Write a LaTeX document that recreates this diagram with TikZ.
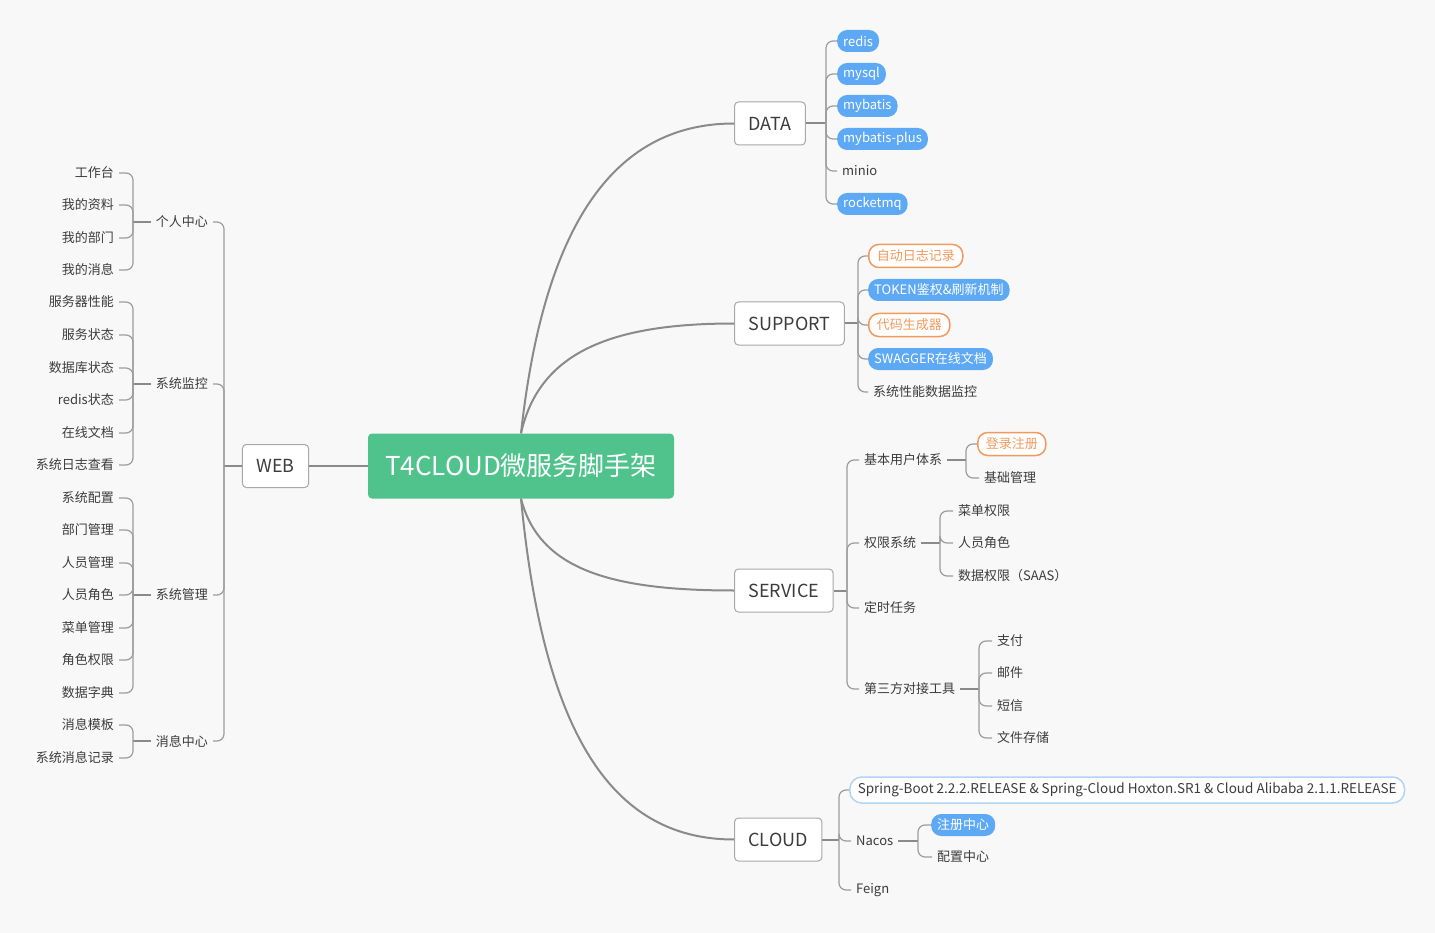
\documentclass[tikz,border=0pt]{standalone}
\usepackage{fontspec}
\setmainfont{Noto Sans CJK SC}
\usetikzlibrary{positioning,calc}

\definecolor{bggray}{HTML}{F8F8F8}
\definecolor{rootgreen}{HTML}{50C38D}
\definecolor{tagblue}{HTML}{5EA9F5}
\definecolor{tagorange}{HTML}{F29A5E}
\definecolor{tagline}{HTML}{B3D4F7}
\definecolor{txtgray}{HTML}{3C3C3C}
\definecolor{linegray}{HTML}{8A8A8A}
\definecolor{boxgray}{HTML}{A8A8A8}

\newcommand\fsleaf{\fontsize{13}{15}\selectfont}
\newcommand\fsspring{\fontsize{13.5}{15}\selectfont}
\newcommand\fstopic{\fontsize{18}{21}\selectfont}
\newcommand\fsroot{\fontsize{26}{30}\selectfont}

\tikzset{
  rootbox/.style={fill=rootgreen, text=white, rounded corners=4pt, minimum width=306pt, minimum height=65pt, font=\fsroot},
  topic/.style={draw=boxgray, line width=1pt, fill=white, rounded corners=4pt, minimum height=43pt, inner xsep=14pt, text=txtgray, font=\fstopic},
  leaf/.style={inner xsep=5pt, inner ysep=3pt, text=txtgray, font=\fsleaf},
  bluetag/.style={fill=tagblue, text=white, rounded corners=10pt, minimum height=22pt, inner xsep=6pt, inner ysep=2pt, font=\fsleaf},
  orangetag/.style={draw=tagorange, line width=1.5pt, fill=white, text=tagorange, rounded corners=10pt, minimum height=23pt, inner xsep=8pt, inner ysep=2pt, font=\fsleaf},
  cloudtag/.style={draw=tagline, line width=1.5pt, fill=white, text=txtgray, rounded corners=12pt, minimum height=26pt, inner xsep=8pt, font=\fsspring},
  mainline/.style={draw=linegray, line width=2pt},
  stub/.style={draw=linegray, line width=2pt},
  branch/.style={draw=linegray!85, line width=1.2pt, rounded corners=7pt},
}

\begin{document}
\begin{tikzpicture}[x=1pt,y=-1pt]
% page
\fill[bggray] (0,0) rectangle (1435,933);
\useasboundingbox (0,0) rectangle (1435,933);

% root and main topics
\node[rootbox] (root) at (521,466) {T4CLOUD微服务脚手架};
\node[topic] (web) at (275.5,466) {WEB};
\node[topic,anchor=west] (data) at (734,123.5) {DATA};
\node[topic,anchor=west] (support) at (734,323.5) {SUPPORT};
\node[topic,anchor=west] (service) at (734,590.5) {SERVICE};
\node[topic,anchor=west] (cloud) at (734,839.5) {CLOUD};

\draw[mainline] (root.west) -- (web.east);
\draw[mainline] (root.north) .. controls +(22,-200) and +(-125,0) .. (data.west);
\draw[mainline] (root.north) .. controls +(18,-80) and +(-125,0) .. (support.west);
\draw[mainline] (root.south) .. controls +(18,70) and +(-125,0) .. (service.west);
\draw[mainline] (root.south) .. controls +(22,230) and +(-125,0) .. (cloud.west);

% WEB
\coordinate (webT) at (224,466);
\draw[stub] (web.west) -- (webT);
\node[leaf,anchor=east] (pc) at (213,222) {个人中心};
\node[leaf,anchor=east] (mon) at (213,384) {系统监控};
\node[leaf,anchor=east] (mgr) at (213,595) {系统管理};
\node[leaf,anchor=east] (msg) at (213,741) {消息中心};
\foreach \g in {pc,mon,mgr,msg}
  \draw[branch] (webT) |- (\g.east);

\coordinate (pcT) at (133,222);
\draw[stub] (pc.west) -- (pcT);
\foreach \y/\t [count=\i] in {173/工作台,205/我的资料,238/我的部门,270/我的消息} {
  \node[leaf,anchor=east] (pc\i) at (119,\y) {\t};
  \draw[branch] (pcT) |- (pc\i.east);
}

\coordinate (monT) at (133,384);
\draw[stub] (mon.west) -- (monT);
\foreach \y/\t [count=\i] in {302/服务器性能,335/服务状态,368/数据库状态,400/redis状态,433/在线文档,465/系统日志查看} {
  \node[leaf,anchor=east] (mon\i) at (119,\y) {\t};
  \draw[branch] (monT) |- (mon\i.east);
}

\coordinate (mgrT) at (133,595);
\draw[stub] (mgr.west) -- (mgrT);
\foreach \y/\t [count=\i] in {498/系统配置,530/部门管理,563/人员管理,595/人员角色,628/菜单管理,660/角色权限,693/数据字典} {
  \node[leaf,anchor=east] (mgr\i) at (119,\y) {\t};
  \draw[branch] (mgrT) |- (mgr\i.east);
}

\coordinate (msgT) at (133,741);
\draw[stub] (msg.west) -- (msgT);
\foreach \y/\t [count=\i] in {725/消息模板,758/系统消息记录} {
  \node[leaf,anchor=east] (msg\i) at (119,\y) {\t};
  \draw[branch] (msgT) |- (msg\i.east);
}

% DATA
\coordinate (dataT) at (826,123.5);
\draw[stub] (data.east) -- (dataT);
\foreach \y/\t/\s [count=\i] in {41/redis/bluetag,74/mysql/bluetag,106/mybatis/bluetag,139/mybatis-plus/bluetag,171/minio/leaf,204/rocketmq/bluetag} {
  \node[\s,anchor=west] (data\i) at (837,\y) {\t};
  \draw[branch] (dataT) |- (data\i.west);
}

% SUPPORT
\coordinate (supT) at (858,323.5);
\draw[stub] (support.east) -- (supT);
\foreach \y/\t/\s [count=\i] in {256/自动日志记录/orangetag,290/TOKEN鉴权\&刷新机制/bluetag,325/代码生成器/orangetag,359/SWAGGER在线文档/bluetag,392/系统性能数据监控/leaf} {
  \node[\s,anchor=west] (sup\i) at (868,\y) {\t};
  \draw[branch] (supT) |- (sup\i.west);
}

% SERVICE
\coordinate (svcT) at (847,590.5);
\draw[stub] (service.east) -- (svcT);
\node[leaf,anchor=west] (user) at (859,460) {基本用户体系};
\node[leaf,anchor=west] (perm) at (859,543) {权限系统};
\node[leaf,anchor=west] (job) at (859,608) {定时任务};
\node[leaf,anchor=west] (third) at (859,689) {第三方对接工具};
\foreach \g in {user,perm,job,third}
  \draw[branch] (svcT) |- (\g.west);

\coordinate (userT) at (966,460);
\draw[stub] (user.east) -- (userT);
\node[orangetag,anchor=west] (login) at (977,444) {登录注册};
\node[leaf,anchor=west] (basic) at (979,478) {基础管理};
\foreach \g in {login,basic}
  \draw[branch] (userT) |- (\g.west);

\coordinate (permT) at (940,543);
\draw[stub] (perm.east) -- (permT);
\foreach \y/\t [count=\i] in {511/菜单权限,543/人员角色,576/数据权限（SAAS）} {
  \node[leaf,anchor=west] (perm\i) at (953,\y) {\t};
  \draw[branch] (permT) |- (perm\i.west);
}

\coordinate (thirdT) at (979,689);
\draw[stub] (third.east) -- (thirdT);
\foreach \y/\t [count=\i] in {641/支付,673/邮件,706/短信,738/文件存储} {
  \node[leaf,anchor=west] (third\i) at (992,\y) {\t};
  \draw[branch] (thirdT) |- (third\i.west);
}

% CLOUD
\coordinate (cloudT) at (839,839.5);
\draw[stub] (cloud.east) -- (cloudT);
\node[cloudtag,anchor=west] (spring) at (849,790) {Spring-Boot 2.2.2.RELEASE \& Spring-Cloud Hoxton.SR1 \& Cloud Alibaba 2.1.1.RELEASE};
\node[leaf,anchor=west] (nacos) at (851,841) {Nacos};
\node[leaf,anchor=west] (feign) at (851,890) {Feign};
\foreach \g in {spring,nacos,feign}
  \draw[branch] (cloudT) |- (\g.west);

\coordinate (nacosT) at (918,841);
\draw[stub] (nacos.east) -- (nacosT);
\node[bluetag,anchor=west] (reg) at (931,825) {注册中心};
\node[leaf,anchor=west] (conf) at (932,857) {配置中心};
\foreach \g in {reg,conf}
  \draw[branch] (nacosT) |- (\g.west);
\end{tikzpicture}
\end{document}
